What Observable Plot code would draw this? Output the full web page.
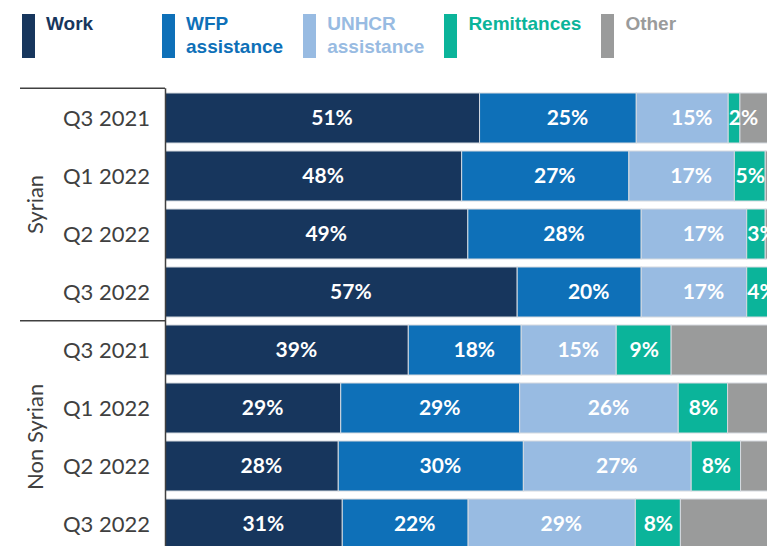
<!DOCTYPE html>
<html>
<head>
<meta charset="utf-8">
<script src="https://cdn.jsdelivr.net/npm/d3@7"></script>
<script src="https://cdn.jsdelivr.net/npm/@observablehq/plot@0.6"></script>
<style>
  html, body { margin: 0; padding: 0; background: #fff; overflow: hidden; }
  #legend { display: flex; box-sizing: border-box; height: 86px; padding: 13px 0 0 22px;
            font-family: "Liberation Sans", Arial, sans-serif; font-weight: bold; font-size: 19px; line-height: 22.5px; }
  #legend .item { display: flex; min-width: 120px; margin-right: 20px; }
  #legend .sw { width: 13px; height: 44px; margin-top: 1px; margin-right: 11px; flex: none; }
  #chart svg { display: block; overflow: hidden; }
</style>
</head>
<body>
<div id="legend"></div>
<div id="chart"></div>
<script>
// ---- data ----
const groups = ["Syrian", "Non Syrian"];
const quarters = ["Q3 2021", "Q1 2022", "Q2 2022", "Q3 2022"];
const categories = ["Work", "WFP assistance", "UNHCR assistance", "Remittances", "Other"];
const colors = ["#17365d", "#0e70b8", "#98bbe2", "#0bb49a", "#9a9b9b"];

// bar lengths (share of households, %), per quarter
const syrianWork   = [50.9, 48.0, 49.0, 57.0];
const syrianWFP    = [25.4, 27.1, 28.1, 20.1];
const syrianUNHCR  = [14.9, 17.1, 17.1, 17.1];
const syrianRemit  = [1.9, 5.0, 3.0, 4.0];
const syrianOther  = [6.9, 2.8, 2.8, 1.8];

const nonWork  = [39.35, 28.4, 28.0, 28.65];
const nonWFP   = [18.3, 29.0, 30.0, 20.4];
const nonUNHCR = [15.4, 25.7, 27.2, 27.1];
const nonRemit = [8.9, 8.0, 8.0, 7.3];
const nonOther = [18.1, 8.9, 6.8, 16.6];

// printed data labels (%)
const syrianWorkLabel  = [51, 48, 49, 57];
const syrianWFPLabel   = [25, 27, 28, 20];
const syrianUNHCRLabel = [15, 17, 17, 17];
const syrianRemitLabel = [2, 5, 3, 4];

const nonWorkLabel  = [39, 29, 28, 31];
const nonWFPLabel   = [18, 29, 30, 22];
const nonUNHCRLabel = [15, 26, 27, 29];
const nonRemitLabel = [9, 8, 8, 8];

const shares = [
  [syrianWork, syrianWFP, syrianUNHCR, syrianRemit, syrianOther],
  [nonWork, nonWFP, nonUNHCR, nonRemit, nonOther]
];
const printed = [
  [syrianWorkLabel, syrianWFPLabel, syrianUNHCRLabel, syrianRemitLabel, null],
  [nonWorkLabel, nonWFPLabel, nonUNHCRLabel, nonRemitLabel, null]
];

// ---- legend ----
const legend = document.getElementById("legend");
categories.forEach((c, i) => {
  const item = document.createElement("div");
  item.className = "item";
  const sw = document.createElement("div");
  sw.className = "sw";
  sw.style.background = colors[i];
  const tx = document.createElement("div");
  tx.style.color = colors[i];
  tx.innerHTML = c.replace(" ", "<br>");
  item.appendChild(sw);
  item.appendChild(tx);
  legend.appendChild(item);
});

// ---- table ----
const keys = groups.flatMap(g => quarters.map(q => g + "|" + q));
const data = [];
groups.forEach((g, gi) => quarters.forEach((q, qi) => categories.forEach((c, ci) => {
  const lab = printed[gi][ci] ? printed[gi][ci][qi] : null;
  data.push({key: g + "|" + q, group: g, quarter: q, category: c, value: shares[gi][ci][qi], label: lab});
})));

const isSmall = d => d.value < 4.5;
const textBase = {x: "value", y: "key", z: "category", fill: "white",
  fontFamily: "Lato", fontWeight: "bold", fontSize: 21};

const plot = Plot.plot({
  width: 767,
  height: 460,
  marginTop: 2.3,
  marginRight: 0,
  marginBottom: 0,
  marginLeft: 165.5,
  style: {fontFamily: "Lato", fontSize: "22px", color: "#404040", background: "white", overflow: "hidden"},
  x: {domain: [0, 100], range: [165.5, 782.5], axis: null},
  y: {domain: keys, range: [2.26, 467.06], paddingInner: 0.139, paddingOuter: 0.0695, align: 0.5,
      tickFormat: k => k.split("|")[1], tickSize: 0, tickPadding: 16, label: null},
  color: {domain: categories, range: colors},
  marks: [
    Plot.barX(data, Plot.stackX({x: "value", y: "key", fill: "category", stroke: "#d5dae0", strokeWidth: 1})),
    Plot.text(data, Plot.stackX({...textBase,
      text: d => (d.label != null && !isSmall(d) && d.label >= 10) ? d.label + "%" : null, dx: 9})),
    Plot.text(data, Plot.stackX({...textBase,
      text: d => (d.label != null && !isSmall(d) && d.label < 10) ? d.label + "%" : null})),
    Plot.text(data, Plot.stackX1({...textBase, textAnchor: "start",
      text: d => (d.label != null && isSmall(d)) ? d.label + "%" : null})),
    Plot.ruleX([0], {stroke: "#404040", strokeWidth: 1.5, dx: -0.5})
  ]
});
document.getElementById("chart").appendChild(plot);

// ---- group brackets and labels, from Plot's y scale ----
const ys = plot.scale("y");
const xs = plot.scale("x");
const band = d3.scaleBand(ys.domain, ys.range)
  .paddingInner(ys.paddingInner ?? 0.139)
  .paddingOuter(ys.paddingOuter ?? 0.0695)
  .align(ys.align ?? 0.5);
const step = band.step(), bw = band.bandwidth(), half = (step - bw) / 2;
const x0 = xs.range[0] - 0.5;
const svg = d3.select(plot);
groups.forEach(g => {
  const top = band(g + "|" + quarters[0]) - half;
  const bottom = band(g + "|" + quarters[quarters.length - 1]) + bw + half;
  svg.append("line").attr("x1", 20).attr("x2", x0).attr("y1", top).attr("y2", top)
    .attr("stroke", "#404040").attr("stroke-width", 1.5);
  svg.append("text")
    .attr("transform", `translate(35,${(top + bottom) / 2}) rotate(-90)`)
    .attr("text-anchor", "middle").attr("dy", "0.35em")
    .attr("fill", "#404040").attr("font-family", "Lato").attr("font-size", 22)
    .text(g);
});
</script>
</body>
</html>
